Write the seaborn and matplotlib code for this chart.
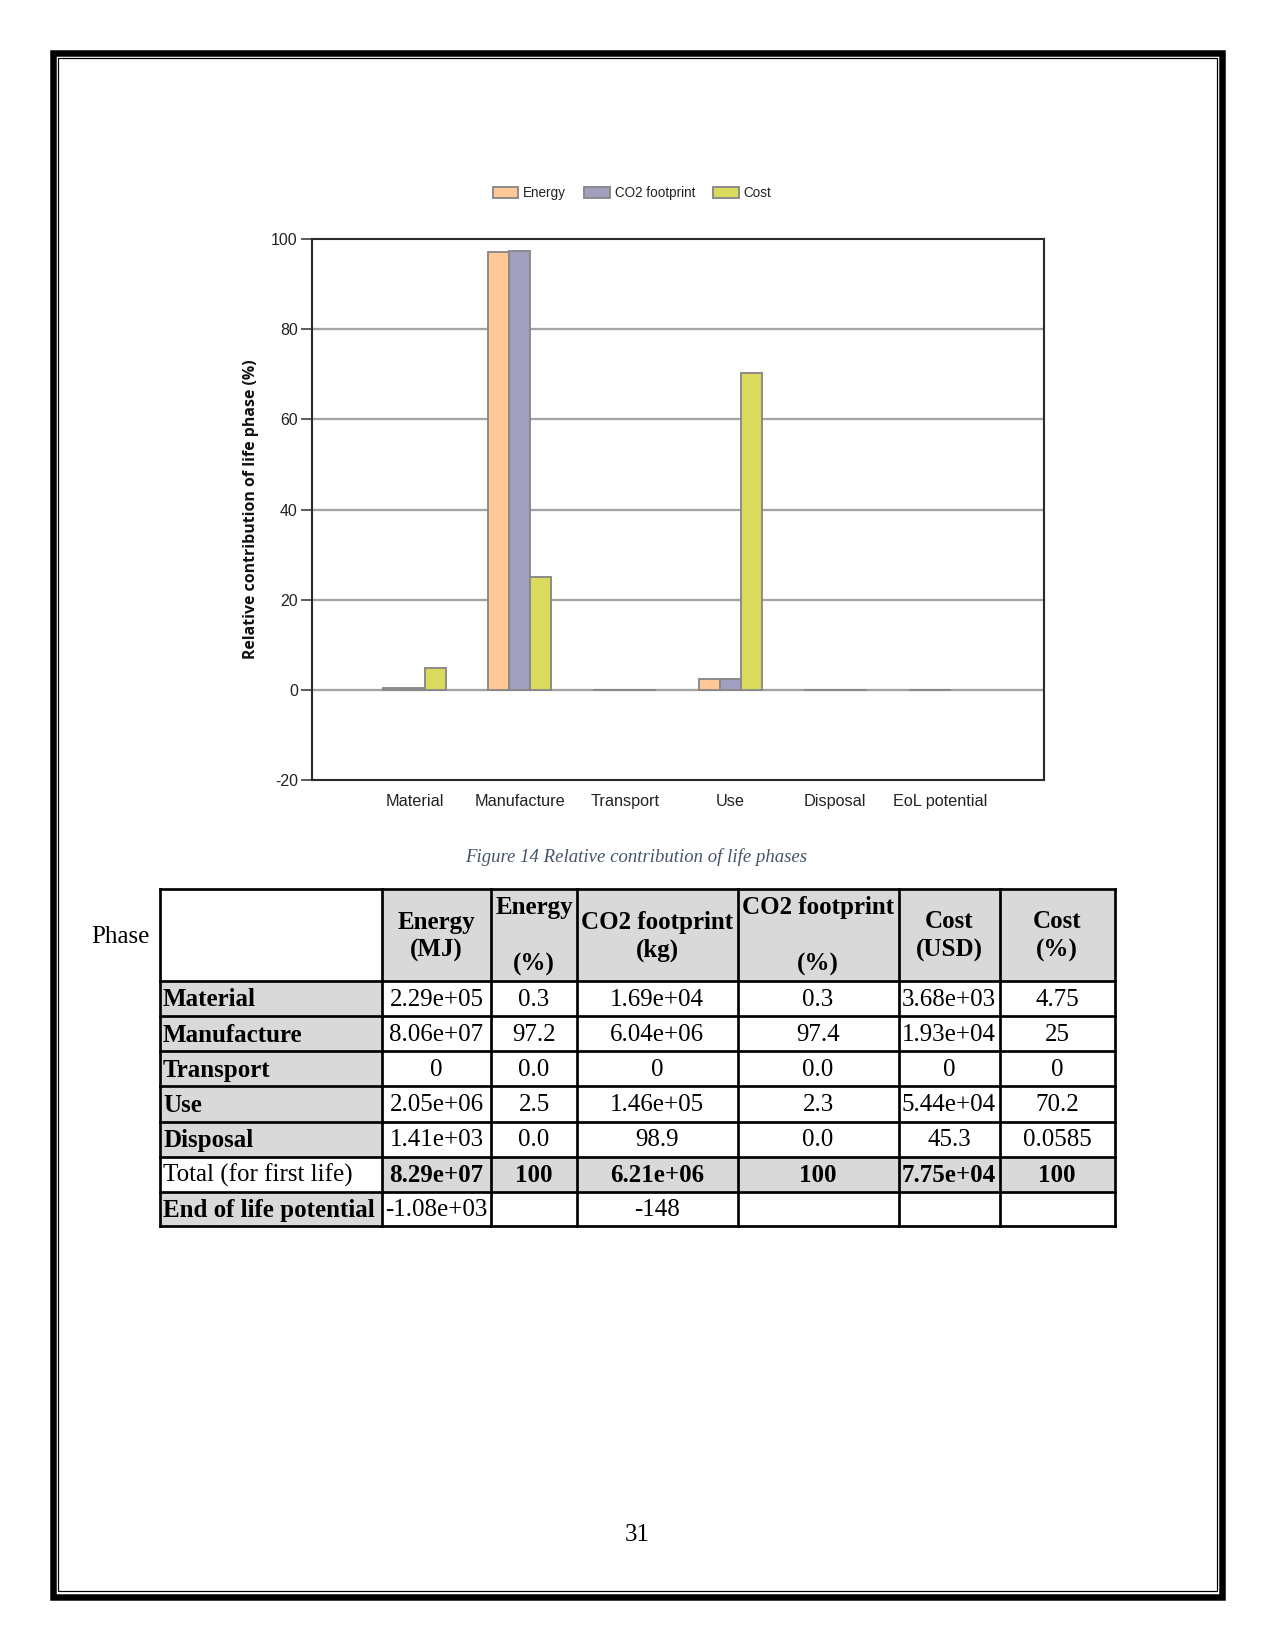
import numpy as np
import pandas as pd
import matplotlib
matplotlib.use("Agg")
import matplotlib.pyplot as plt
import seaborn as sns
from matplotlib.patches import Rectangle
from matplotlib.lines import Line2D

plt.rcParams["axes.unicode_minus"] = False

# ---------------- data ----------------
phases = ["Material", "Manufacture", "Transport", "Use", "Disposal", "EoL potential"]
series_names = ["Energy", "CO2 footprint", "Cost"]
energy_pct = [0.3, 97.2, 0.0, 2.5, 0.0017, -0.0013]
co2_pct = [0.3, 97.4, 0.0, 2.3, 0.0016, -0.0024]
cost_pct = [4.75, 25.0, 0.0, 70.2, 0.0585, np.nan]
series_colors = ["#FFC896", "#A09FC0", "#DADA5C"]
y_ticks = [-20, 0, 20, 40, 60, 80, 100]
y_label = "Relative contribution of life phase (%)"
caption = "Figure 14 Relative contribution of life phases"

# table
row_labels = ["Material", "Manufacture", "Transport", "Use", "Disposal",
              "Total (for first life)", "End of life potential"]
energy_mj = ["2.29e+05", "8.06e+07", "0", "2.05e+06", "1.41e+03", "8.29e+07", "-1.08e+03"]
energy_pc = ["0.3", "97.2", "0.0", "2.5", "0.0", "100", ""]
co2_kg = ["1.69e+04", "6.04e+06", "0", "1.46e+05", "98.9", "6.21e+06", "-148"]
co2_pc = ["0.3", "97.4", "0.0", "2.3", "0.0", "100", ""]
cost_usd = ["3.68e+03", "1.93e+04", "0", "5.44e+04", "45.3", "7.75e+04", ""]
cost_pc = ["4.75", "25", "0", "70.2", "0.0585", "100", ""]
header_lines = [[], ["Energy", "(MJ)"], ["Energy", "", "(%)"], ["CO2 footprint", "(kg)"],
                ["CO2 footprint", "", "(%)"], ["Cost", "(USD)"], ["Cost", "(%)"]]
page_number = "31"

# ---------------- figure ----------------
W, H = 1275, 1650
fig = plt.figure(figsize=(8.5, 11), dpi=150)
fig.patch.set_facecolor("white")

page = fig.add_axes([0, 0, 1, 1])
page.set_xlim(0, W)
page.set_ylim(H, 0)
page.axis("off")
PX = 72 / 150  # points per pixel

# page border (thick outer + thin inner)
page.add_patch(Rectangle((53, 53), 1222 - 53, 1597 - 53, fill=False, ec="black", lw=6.5 * PX))
page.add_patch(Rectangle((58, 58), 1217 - 58, 1591 - 58, fill=False, ec="black", lw=1.2 * PX))

# ---------------- bar chart ----------------
ax_l, ax_r, ax_t, ax_b = 312, 1044, 239, 780
ax = fig.add_axes([ax_l / W, 1 - ax_b / H, (ax_r - ax_l) / W, (ax_b - ax_t) / H])

df = pd.DataFrame({
    "phase": phases * 3,
    "metric": [series_names[0]] * 6 + [series_names[1]] * 6 + [series_names[2]] * 6,
    "value": energy_pct + co2_pct + cost_pct,
}).dropna()

sns.barplot(data=df, x="phase", y="value", hue="metric", order=phases,
            hue_order=series_names, palette=dict(zip(series_names, series_colors)),
            saturation=1, width=0.6, edgecolor="#888888", linewidth=0.9,
            errorbar=None, ax=ax)

handles, labels = ax.get_legend_handles_labels()
if ax.get_legend() is not None:
    ax.get_legend().remove()

ax.set_xlim(-0.975, 5.985)
ax.set_ylim(-20, 100)
ax.set_yticks(y_ticks)
ax.set_axisbelow(True)
for v in y_ticks[1:-1]:
    ax.axhline(v, color="#A3A3A3", lw=1.1, zorder=0)
for s in ax.spines.values():
    s.set_color("#2a2a2a")
    s.set_linewidth(1.0)
ax.set_xlabel("")
ax.set_ylabel(y_label, fontsize=7.6, fontweight="bold", family="Open Sans", color="#111111")
ax.yaxis.set_label_coords(-61 / (ax_r - ax_l), 0.5)
ax.yaxis.label.set_va("center")
ax.tick_params(axis="y", length=5.3, width=0.8, color="#404040", pad=1.5,
               labelsize=7.6, labelcolor="#222222")
ax.tick_params(axis="x", length=0, pad=6.5, labelsize=7.8, labelcolor="#222222")
for t in ax.get_xticklabels() + ax.get_yticklabels():
    t.set_family("Liberation Sans")

leg = fig.legend(handles, labels, loc="center", bbox_to_anchor=(632 / W, 1 - 193 / H),
                 ncol=3, frameon=False, prop={"family": "Liberation Sans", "size": 6.5},
                 handlelength=1.9, handleheight=0.85, handletextpad=0.35, columnspacing=1.35,
                 borderaxespad=0, borderpad=0)
for t in leg.get_texts():
    t.set_color("#222222")

# caption
page.text(636, 857, caption, ha="center", va="center", fontsize=9.0,
          family="Liberation Serif", style="italic", color="#44546A")

# ---------------- table ----------------
col_x = [160, 382, 491, 577, 737.5, 898.5, 999.5, 1115]
row_y = [889, 980.5, 1016, 1051, 1086, 1121.5, 1156.5, 1191.5, 1226]
gray = "#D9D9D9"
fs = 12
serif = "Liberation Serif"

n_rows = len(row_labels)
cols = [energy_mj, energy_pc, co2_kg, co2_pc, cost_usd, cost_pc]

# backgrounds
for c in range(1, 7):
    page.add_patch(Rectangle((col_x[c], row_y[0]), col_x[c + 1] - col_x[c], row_y[1] - row_y[0],
                             fc=gray, ec="none"))
for r in range(n_rows):
    y0, y1 = row_y[r + 1], row_y[r + 2]
    total = row_labels[r].startswith("Total")
    if not total:
        page.add_patch(Rectangle((col_x[0], y0), col_x[1] - col_x[0], y1 - y0, fc=gray, ec="none"))
    else:
        for c in range(1, 7):
            page.add_patch(Rectangle((col_x[c], y0), col_x[c + 1] - col_x[c], y1 - y0,
                                     fc=gray, ec="none"))

# grid lines
lw_t = 2.7 * PX
for x in col_x:
    page.add_line(Line2D([x, x], [row_y[0], row_y[-1]], color="black", lw=lw_t,
                         solid_capstyle="projecting"))
for y in row_y:
    page.add_line(Line2D([col_x[0], col_x[-1]], [y, y], color="black", lw=lw_t,
                         solid_capstyle="projecting"))

# header text
hc = (row_y[0] + row_y[1]) / 2 + 1.5
for c in range(1, 7):
    lines = header_lines[c]
    cx = (col_x[c] + col_x[c + 1]) / 2
    n = len(lines)
    pitch = 28.5
    for i, s in enumerate(lines):
        if not s:
            continue
        yy = hc + (i - (n - 1) / 2) * pitch
        page.text(cx, yy, s, ha="center", va="center", fontsize=fs, family=serif,
                  fontweight="bold", color="black")

# body text
for r in range(n_rows):
    yc = (row_y[r + 1] + row_y[r + 2]) / 2 + 1.5
    total = row_labels[r].startswith("Total")
    page.text(col_x[0] + 3, yc, row_labels[r], ha="left", va="center", fontsize=fs,
              family=serif, fontweight="normal" if total else "bold", color="black")
    for c in range(6):
        s = cols[c][r]
        if not s:
            continue
        cx = (col_x[c + 1] + col_x[c + 2]) / 2
        page.text(cx, yc, s, ha="center", va="center", fontsize=fs, family=serif,
                  fontweight="bold" if total else "normal", color="black")

page.text(120, 937, "Phase", ha="center", va="center", fontsize=fs, family=serif, color="black")
page.text(637, 1535, page_number, ha="center", va="center", fontsize=fs, family=serif, color="black")

fig.savefig("out.png", dpi=150, facecolor="white")
